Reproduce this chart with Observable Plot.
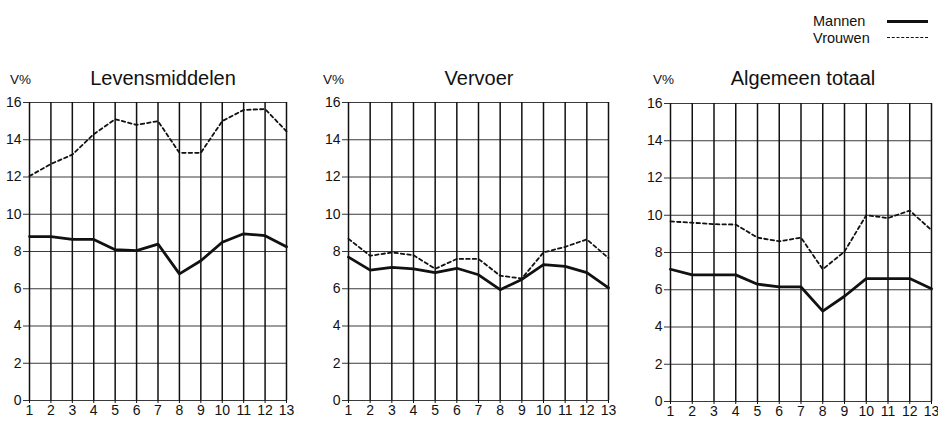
<!DOCTYPE html>
<html><head><meta charset="utf-8">
<script src="https://cdn.jsdelivr.net/npm/d3@7"></script>
<script src="https://cdn.jsdelivr.net/npm/@observablehq/plot@0.6"></script>
<style>
body{margin:0;background:#fff;}
#root{position:relative;width:938px;height:422px;overflow:hidden;font-family:"Liberation Sans",Arial,sans-serif;color:#111;background:#fff;}
.t{position:absolute;font-size:20px;line-height:20px;transform:translateX(-50%);white-space:nowrap;}
.v{position:absolute;font-size:13.5px;line-height:13.5px;white-space:nowrap;}
.p{position:absolute;}
.p text{font-size:14px !important;font-family:"Liberation Sans",Arial,sans-serif !important;fill:#111;}
.lg{position:absolute;font-size:14.5px;line-height:14.5px;white-space:nowrap;}
.ln{position:absolute;width:41px;height:0;}
</style></head><body><div id="root"></div>
<script>
const periods = [1,2,3,4,5,6,7,8,9,10,11,12,13];
const yTicks = [0,2,4,6,8,10,12,14,16];
const titles = ["Levensmiddelen","Vervoer","Algemeen totaal"];
const unitLabel = "V%";
const seriesNames = ["Mannen","Vrouwen"];

const levensMannen  = [8.8,8.8,8.65,8.65,8.1,8.05,8.4,6.8,7.5,8.5,8.95,8.85,8.25];
const levensVrouwen = [12.05,12.7,13.2,14.3,15.1,14.8,15.0,13.3,13.3,15.0,15.6,15.65,14.45];
const vervoerMannen  = [7.7,7.0,7.15,7.07,6.87,7.1,6.75,5.95,6.5,7.3,7.2,6.87,6.05];
const vervoerVrouwen = [8.68,7.77,7.95,7.8,7.07,7.6,7.6,6.7,6.55,7.95,8.25,8.65,7.65];
const totaalMannen  = [7.1,6.8,6.8,6.8,6.3,6.15,6.15,4.85,5.65,6.6,6.6,6.6,6.05];
const totaalVrouwen = [9.67,9.6,9.52,9.5,8.8,8.6,8.8,7.1,8.05,10.0,9.85,10.25,9.2];

const panels = [
  {title: titles[0], m: levensMannen, v: levensVrouwen, left: 0, top: 95, ml: 29, w: 300, tx: 163, vx: 10},
  {title: titles[1], m: vervoerMannen, v: vervoerVrouwen, left: 310, top: 95, ml: 38, w: 310, tx: 479, vx: 323},
  {title: titles[2], m: totaalMannen, v: totaalVrouwen, left: 628, top: 96, ml: 42, w: 303, tx: 803, vx: 653}
];
const plotWidths = [257, 260, 261];

const root = document.getElementById("root");

panels.forEach((p, i) => {
  const rows = periods.map((x, j) => ({x, m: p.m[j], v: p.v[j]}));
  const mr = p.w - p.ml - plotWidths[i];
  const chart = Plot.plot({
    width: p.w,
    height: 327,
    marginTop: 7,
    marginBottom: 22,
    marginLeft: p.ml,
    marginRight: mr,
    style: {fontFamily: '"Liberation Sans", Arial, sans-serif', color: "#111", background: "transparent", overflow: "visible"},
    x: {domain: [1, 13]},
    y: {domain: [0, 16]},
    marks: [
      Plot.ruleY(yTicks, {stroke: "#3a3a3a", strokeWidth: 1}),
      Plot.ruleX(periods, {stroke: "#111", strokeWidth: 1.5}),
      Plot.axisY({ticks: yTicks, tickSize: 6, tickPadding: 2, fontSize: 14, label: null, stroke: "#333", fill: "#111"}),
      Plot.axisX({ticks: periods, tickFormat: d => String(d), tickSize: 3, tickPadding: 2, fontSize: 14, label: null, stroke: "#111", fill: "#111"}),
      Plot.line(rows, {x: "x", y: "v", stroke: "#111", strokeWidth: 1.8, strokeDasharray: "3.5,3"}),
      Plot.line(rows, {x: "x", y: "m", stroke: "#111", strokeWidth: 2.8, strokeLinejoin: "round"})
    ]
  });
  chart.classList.add("p");
  chart.style.left = p.left + "px";
  chart.style.top = p.top + "px";
  root.appendChild(chart);

  const t = document.createElement("div");
  t.className = "t";
  t.textContent = p.title;
  t.style.left = p.tx + "px";
  t.style.top = "68px";
  root.appendChild(t);

  const v = document.createElement("div");
  v.className = "v";
  v.textContent = unitLabel;
  v.style.left = p.vx + "px";
  v.style.top = "73px";
  root.appendChild(v);
});

// legend
const lgData = [{name: seriesNames[0], top: 14, y: 20, style: "3px solid #111"}, {name: seriesNames[1], top: 31, y: 37, style: "1.5px dashed #111"}];
lgData.forEach(l => {
  const d = document.createElement("div");
  d.className = "lg";
  d.textContent = l.name;
  d.style.left = "813px";
  d.style.top = l.top + "px";
  root.appendChild(d);
  const ln = document.createElement("div");
  ln.className = "ln";
  ln.style.left = "887px";
  ln.style.top = l.y + "px";
  ln.style.borderTop = l.style;
  root.appendChild(ln);
});
</script></body></html>
